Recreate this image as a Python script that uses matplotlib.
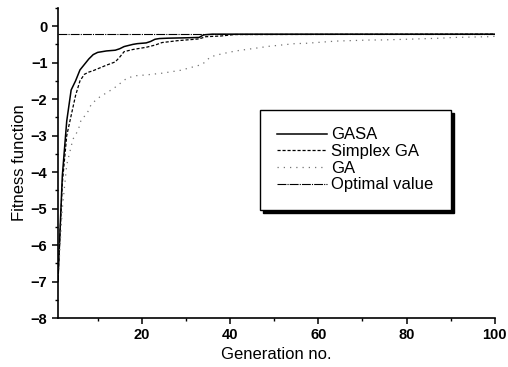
import matplotlib
matplotlib.use("Agg")
import matplotlib.pyplot as plt
from matplotlib.ticker import MultipleLocator

plt.rcParams["font.family"] = ["Liberation Sans", "DejaVu Sans"]

# ─── data ────────────────────────────────────────────────────────────────
gasa_gen = [1, 2, 3, 4, 5, 6, 7, 8, 9, 10, 11, 12, 13, 14, 15, 16, 17, 18,
            19, 20, 21, 22, 23, 24, 26, 30, 33, 34, 36, 100]
gasa_fit = [-7.0, -4.1, -2.6, -1.75, -1.5, -1.2, -1.05, -0.9, -0.78, -0.72,
            -0.70, -0.68, -0.67, -0.66, -0.62, -0.56, -0.53, -0.50, -0.48,
            -0.47, -0.46, -0.42, -0.36, -0.34, -0.33, -0.32, -0.31, -0.24,
            -0.22, -0.22]

simplex_gen = [1, 2, 3, 4, 5, 6, 7, 8, 9, 10, 12, 14, 15, 16, 18, 21, 23,
               24.6, 26, 28, 33, 34.5, 38, 41, 100]
simplex_fit = [-7.0, -4.3, -3.0, -2.45, -1.9, -1.5, -1.32, -1.26, -1.22,
               -1.17, -1.07, -0.98, -0.85, -0.70, -0.64, -0.58, -0.52, -0.45,
               -0.43, -0.40, -0.35, -0.29, -0.27, -0.23, -0.22]

ga_gen = [1, 2, 3, 4.4, 5.6, 6.3, 7.5, 8.6, 10.5, 13.6, 16.6, 18.5, 20.8,
          24.6, 28.8, 33.7, 35.6, 38.1, 41.3, 45.5, 49, 54.7, 57.3, 64, 71.8,
          74, 80, 87.8, 90.7, 98.4, 100]
ga_fit = [-7.0, -5.0, -3.8, -3.1, -2.85, -2.55, -2.42, -2.13, -1.94, -1.71,
          -1.43, -1.36, -1.34, -1.29, -1.21, -1.05, -0.84, -0.76, -0.68,
          -0.61, -0.55, -0.48, -0.47, -0.41, -0.38, -0.38, -0.36, -0.33,
          -0.31, -0.29, -0.28]

optimal_gen = [1, 100]
optimal_fit = [-0.22, -0.22]

labels = ["GASA", "Simplex GA", "GA", "Optimal value"]

# ─── figure ──────────────────────────────────────────────────────────────
fig = plt.figure(figsize=(5.08, 3.67), dpi=100)
ax = fig.add_axes([0.114, 0.1335, 0.860, 0.845])

ax.plot(gasa_gen, gasa_fit, color="black", lw=1.1, label=labels[0])
ax.plot(simplex_gen, simplex_fit, color="black", lw=0.9,
        linestyle=(0, (2.5, 1.5)), label=labels[1])
ax.plot(ga_gen, ga_fit, color="0.45", lw=0.9,
        linestyle=(0, (1, 4)), label=labels[2])
ax.plot(optimal_gen, optimal_fit, color="black", lw=0.8,
        linestyle=(0, (8, 1, 1, 1)), label=labels[3])

ax.set_xlim(1, 100)
ax.set_ylim(-8, 0.5)
ax.xaxis.set_major_locator(MultipleLocator(20))
ax.xaxis.set_minor_locator(MultipleLocator(10))
ax.yaxis.set_major_locator(MultipleLocator(1))
ax.yaxis.set_minor_locator(MultipleLocator(0.5))

for side in ("top", "right"):
    ax.spines[side].set_visible(False)
for side in ("left", "bottom"):
    ax.spines[side].set_linewidth(1.2)

ax.tick_params(which="major", direction="out", length=4, width=1.1,
               labelsize=10.5)
ax.tick_params(which="minor", direction="out", length=2.5, width=1.0)
for lab in ax.get_xticklabels() + ax.get_yticklabels():
    lab.set_fontweight("bold")

ax.set_xlabel("Generation no.", fontsize=12, labelpad=3)
ax.set_ylabel("Fitness function", fontsize=12, labelpad=3)

leg = ax.legend(loc="upper left", bbox_to_anchor=(0.462, 0.671),
                borderaxespad=0, fontsize=12, frameon=True, fancybox=False,
                shadow={"color": "black", "alpha": 1.0},
                edgecolor="black", framealpha=1.0, handlelength=3.0,
                handletextpad=0.25, labelspacing=0.1, borderpad=1.05)
leg.get_frame().set_linewidth(1.0)

fig.savefig("out.png", dpi=100)
